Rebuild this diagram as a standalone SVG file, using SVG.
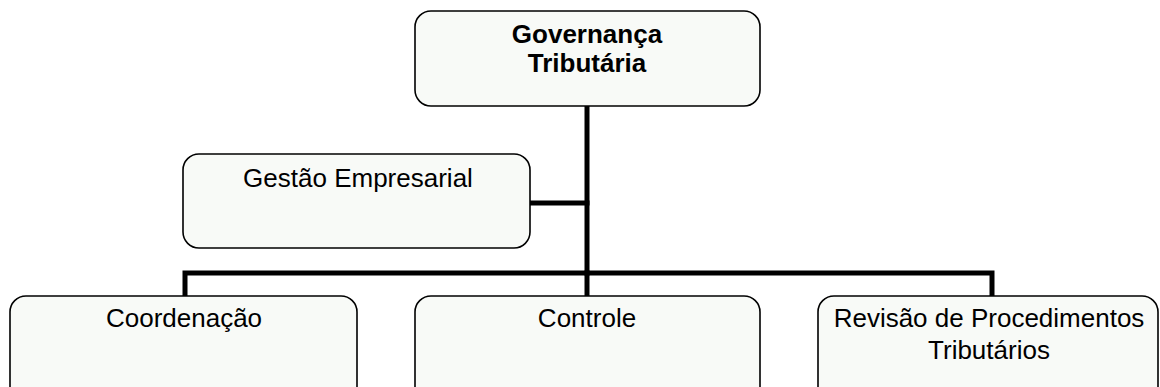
<svg xmlns="http://www.w3.org/2000/svg" width="1160" height="387" viewBox="0 0 1160 387">
<style>
.box{fill:#f8faf7;stroke:#000;stroke-width:1.6}
.t{font-family:"Liberation Sans",Arial,sans-serif;font-size:26px;fill:#000;text-anchor:middle}
.b{font-weight:bold}
.c{fill:none;stroke:#000;stroke-width:5;stroke-linecap:square;stroke-linejoin:miter}
</style>
<rect width="1160" height="387" fill="#fff"/>
<g id="connectors">
<path class="c" d="M587 107 V273"/>
<path class="c" d="M531 203 H587"/>
<path class="c" d="M185 294 V273 H992 V294"/>
<path class="c" d="M587 273 V294"/>
</g>
<g id="governanca">
<rect class="box" x="415" y="11" width="345" height="95" rx="16"/>
<text class="t b" x="587" y="43">Governança</text>
<text class="t b" x="587" y="72">Tributária</text>
</g>
<g id="gestao">
<rect class="box" x="183" y="154" width="347" height="94" rx="16"/>
<text class="t" x="358" y="187">Gestão Empresarial</text>
</g>
<g id="coordenacao">
<rect class="box" x="10" y="296" width="347" height="110" rx="16"/>
<text class="t" x="184" y="327">Coordenação</text>
</g>
<g id="controle">
<rect class="box" x="415" y="296" width="345" height="110" rx="16"/>
<text class="t" x="587" y="327">Controle</text>
</g>
<g id="revisao">
<rect class="box" x="818" y="296" width="340" height="110" rx="16"/>
<text class="t" x="989" y="327">Revisão de Procedimentos</text>
<text class="t" x="989" y="359">Tributários</text>
</g>
</svg>
